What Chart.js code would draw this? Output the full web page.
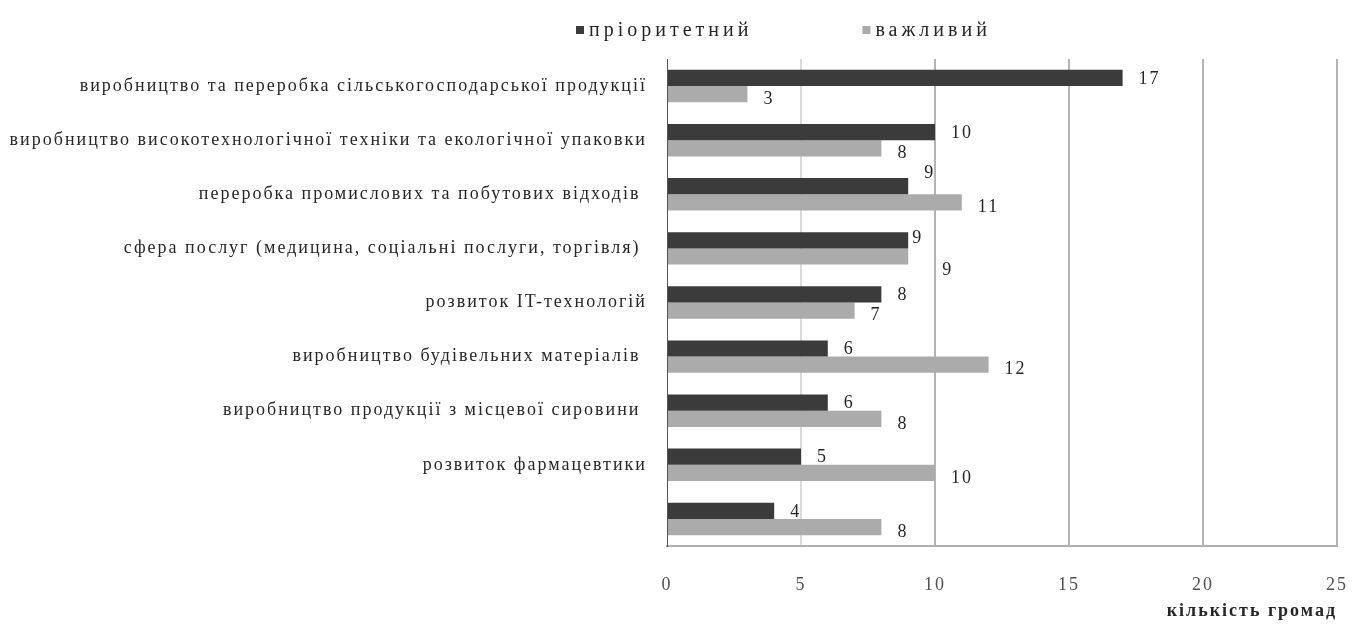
<!DOCTYPE html>
<html lang="uk">
<head>
<meta charset="utf-8">
<title>Пріоритетні напрями розвитку</title>
<script src="https://cdn.jsdelivr.net/npm/chart.js@4.4.1/dist/chart.umd.min.js"></script>
<style>
  html, body { margin: 0; padding: 0; background: #ffffff; }
  #wrap { width: 1359px; height: 626px; position: relative; }
</style>
</head>
<body>
<div id="wrap"><canvas id="chart" width="1359" height="626"></canvas></div>
<script>
// Напрями розвитку (категорії)
const categories = [
  "виробництво та переробка сільськогосподарської продукції",
  "виробництво високотехнологічної техніки та екологічної упаковки",
  "переробка промислових та побутових відходів ",
  "сфера послуг (медицина, соціальні послуги, торгівля) ",
  "розвиток IT-технологій",
  "виробництво будівельних матеріалів ",
  "виробництво продукції з місцевої сировини ",
  "розвиток фармацевтики",
  ""
];

// Кількість громад за оцінкою напряму
const priorityValues  = [17, 10, 9, 9, 8, 6, 6, 5, 4];
const importantValues = [3, 8, 11, 9, 7, 12, 8, 10, 8];

const seriesNames = ["пріоритетний", "важливий"];
const xTicks = [0, 5, 10, 15, 20, 25];
const xTitle = "кількість громад";

const SERIF = "'Liberation Serif', 'Times New Roman', serif";
const TEXT = "#262626";
const DARK = "#3b3b3b";
const LIGHT = "#ababab";

// small shifts for a few value labels: [dataset][index] -> [dx, dy]
const labelShift = {
  "0-2": [0, -14],
  "0-3": [-12, -3],
  "1-3": [18, 9]
};

// spaced lettering for every piece of text on the canvas
const spacing = {
  id: "spacing",
  beforeDraw(chart) { chart.ctx.letterSpacing = "2px"; }
};

// value labels beside each bar
const valueLabels = {
  id: "valueLabels",
  afterDatasetsDraw(chart) {
    const ctx = chart.ctx;
    ctx.save();
    ctx.letterSpacing = "2px";
    ctx.font = "18px " + SERIF;
    ctx.fillStyle = TEXT;
    ctx.textAlign = "left";
    ctx.textBaseline = "middle";
    chart.data.datasets.forEach((ds, di) => {
      const meta = chart.getDatasetMeta(di);
      meta.data.forEach((bar, i) => {
        const s = labelShift[di + "-" + i] || [0, 0];
        const dy = di === 0 ? 1 : 5;
        ctx.fillText(String(ds.data[i]), bar.x + 16 + s[0], bar.y + dy + s[1]);
      });
    });
    ctx.restore();
  }
};

// legend row above the plot
const topLegend = {
  id: "topLegend",
  afterDraw(chart) {
    const ctx = chart.ctx;
    const area = chart.chartArea;
    ctx.save();
    ctx.letterSpacing = "4px";
    ctx.font = "20px " + SERIF;
    ctx.textBaseline = "middle";
    ctx.textAlign = "left";
    let x = area.left - 91;
    const y = 31;
    chart.data.datasets.forEach((ds) => {
      ctx.fillStyle = ds.backgroundColor;
      ctx.fillRect(x, y - 5, 8, 8);
      ctx.fillStyle = TEXT;
      ctx.fillText(ds.label, x + 13, y);
      x += 13 + ctx.measureText(ds.label).width + 110;
    });
    ctx.restore();
  }
};

new Chart(document.getElementById("chart"), {
  type: "bar",
  data: {
    labels: categories,
    datasets: [
      { label: seriesNames[0], data: priorityValues, backgroundColor: DARK,
        categoryPercentage: 0.6, barPercentage: 1.0 },
      { label: seriesNames[1], data: importantValues, backgroundColor: LIGHT,
        categoryPercentage: 0.6, barPercentage: 1.0 }
    ]
  },
  options: {
    indexAxis: "y",
    responsive: false,
    animation: false,
    layout: { padding: { top: 59, right: 22, bottom: 0, left: 0 } },
    plugins: {
      legend: { display: false },
      tooltip: { enabled: false }
    },
    scales: {
      x: {
        type: "linear",
        position: "bottom",
        min: xTicks[0],
        max: xTicks[xTicks.length - 1],
        afterBuildTicks(scale) { scale.ticks = xTicks.map(v => ({ value: v })); },
        afterFit(scale) {
          scale.height = 80;
          scale.paddingRight = 0;
          scale.paddingLeft = 0;
        },
        ticks: {
          padding: 28,
          color: "#505050",
          font: { family: SERIF, size: 18 }
        },
        grid: {
          drawTicks: false,
          lineWidth: 2,
          color: (c) => c.tick && c.tick.value === 0 ? "rgba(0,0,0,0)"
                      : (c.tick && c.tick.value === 5 ? "#dadada" : "#b4b4b4")
        },
        border: { display: true, color: "#b0b0b0", width: 2 },
        title: {
          display: true,
          text: xTitle,
          align: "end",
          color: TEXT,
          font: { family: SERIF, size: 18, weight: "bold" },
          padding: { top: 0, bottom: 4 }
        }
      },
      y: {
        type: "category",
        afterFit(scale) { scale.width = 667; },
        ticks: {
          padding: 20,
          color: TEXT,
          autoSkip: false,
          font: { family: SERIF, size: 18 }
        },
        grid: { display: false, drawTicks: false },
        border: { display: true, color: "#555555", width: 1 }
      }
    }
  },
  plugins: [spacing, valueLabels, topLegend]
});
</script>
</body>
</html>
